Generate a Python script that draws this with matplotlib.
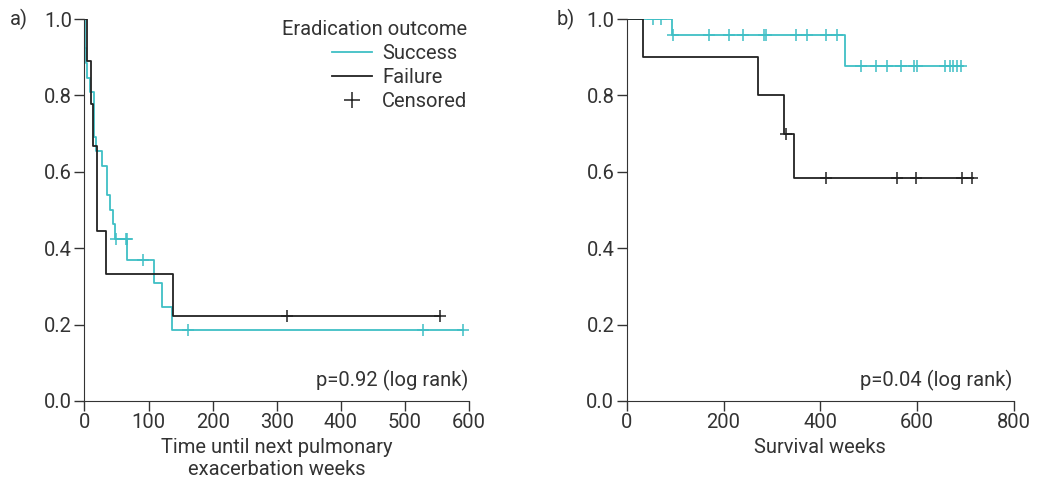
import numpy as np
import matplotlib.pyplot as plt
from matplotlib.lines import Line2D

plt.rcParams['font.family'] = ['Roboto', 'DejaVu Sans']

# a) time until next pulmonary exacerbation
a_succ_t = [0, 0.5, 1.5, 2.5, 4.4, 8.6, 14.5, 15, 15.5, 18, 27.7, 34.6, 35.5, 39.7, 44.9, 47.5, 67, 109, 121, 137]
a_succ_s = [1.0, .962, .923, .885, .846, .808, .769, .731, .692, .654, .615, .577, .538, .5, .462, .423, .37, .308, .246, .185]
a_succ_end = 590
a_succ_cens = [49, 64, 66, 91, 162, 528, 590]

a_fail_t = [0, 4.4, 9.7, 13.7, 19, 33.5, 138]
a_fail_s = [1.0, .889, .778, .667, .444, .333, .222]
a_fail_end = 555
a_fail_cens = [316, 555]

# b) survival
b_succ_t = [0, 94, 452]
b_succ_s = [1.0, .957, .877]
b_succ_end = 694
b_succ_cens = [55, 70, 96, 170, 212, 240, 283, 288, 350, 373, 412, 434,
               484, 515, 538, 567, 593, 600, 658, 668, 674, 682, 690]

b_fail_t = [0, 34, 271, 324, 345]
b_fail_s = [1.0, .9, .8, .7, .583]
b_fail_end = 716
b_fail_cens = [330, 412, 558, 597, 692, 714]

cyan = '#3fbfc5'
dark = '#222222'
grey = '#333333'
fs = 14.5


def km(ax, t, s, end, cens, color):
    tt = list(t) + [end]
    ss = list(s) + [s[-1]]
    ax.step(tt, ss, where='post', color=color, lw=1.3)
    idx = np.searchsorted(t, cens, side='right') - 1
    ax.plot(cens, np.array(s)[idx], ls='none', marker='+', ms=9, mew=1.1, color=color)


fig = plt.figure(figsize=(10.43, 4.95), dpi=100)
ax1 = fig.add_axes([0.081, 0.19, 0.3687, 0.7716])
ax2 = fig.add_axes([0.601, 0.19, 0.371, 0.7716])

km(ax1, a_succ_t, a_succ_s, a_succ_end, a_succ_cens, cyan)
km(ax1, a_fail_t, a_fail_s, a_fail_end, a_fail_cens, dark)
km(ax2, b_succ_t, b_succ_s, b_succ_end, b_succ_cens, cyan)
km(ax2, b_fail_t, b_fail_s, b_fail_end, b_fail_cens, dark)

for ax, xmax in ((ax1, 600), (ax2, 800)):
    ax.set_xlim(0, xmax)
    ax.set_ylim(0, 1.0)
    ax.set_yticks([0, 0.2, 0.4, 0.6, 0.8, 1.0])
    ax.set_yticklabels(['0.0', '0.2', '0.4', '0.6', '0.8', '1.0'])
    ax.spines['top'].set_visible(False)
    ax.spines['right'].set_visible(False)
    ax.spines['left'].set_color(grey)
    ax.spines['bottom'].set_color(grey)
    ax.tick_params(direction='out', length=7, width=1, labelsize=fs, pad=2,
                   colors=grey, labelcolor=grey)

ax1.set_xticks(np.arange(0, 601, 100))
ax2.set_xticks(np.arange(0, 801, 200))

ax1.set_xlabel('Time until next pulmonary\nexacerbation weeks', fontsize=fs, color=grey,
               labelpad=4, linespacing=1.2)
ax2.set_xlabel('Survival weeks', fontsize=fs, color=grey, labelpad=4)

ax1.text(0.997, 0.025, 'p=0.92 (log rank)', transform=ax1.transAxes, ha='right', va='bottom',
         fontsize=fs, color=grey)
ax2.text(0.997, 0.025, 'p=0.04 (log rank)', transform=ax2.transAxes, ha='right', va='bottom',
         fontsize=fs, color=grey)

fig.text(10 / 1043, 1 - 19 / 495, 'a)', ha='left', va='center', fontsize=fs, color=grey)
fig.text(557 / 1043, 1 - 19 / 495, 'b)', ha='left', va='center', fontsize=fs, color=grey)

handles = [Line2D([], [], color=cyan, lw=1.3),
           Line2D([], [], color=dark, lw=1.3),
           Line2D([], [], ls='none', marker='+', ms=11, mew=1.1, color=dark)]
leg = ax1.legend(handles, ['Success', 'Failure', 'Censored'], title='Eradication outcome',
                 loc='upper right', bbox_to_anchor=(0.995, 0.998), frameon=False,
                 fontsize=fs, title_fontsize=fs, handlelength=2.0,
                 handletextpad=0.5, labelspacing=0.25, borderpad=0.0,
                 borderaxespad=0.0, alignment='right')
for txt in leg.get_texts():
    txt.set_color(grey)
leg.get_title().set_color(grey)

plt.savefig('out.png', dpi=100)
